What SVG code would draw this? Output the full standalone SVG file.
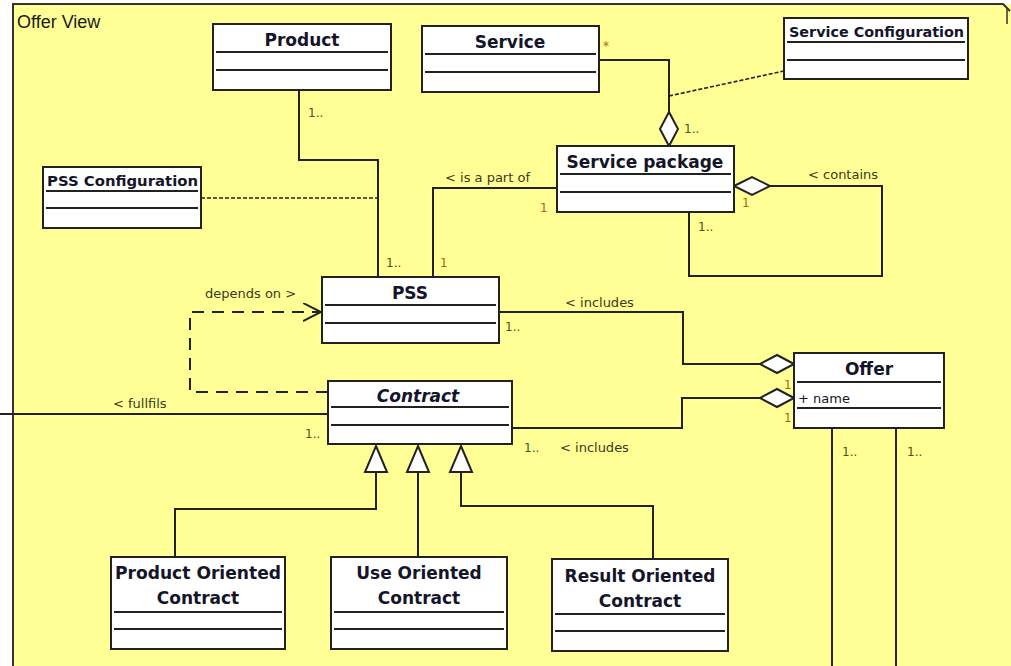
<svg xmlns="http://www.w3.org/2000/svg" width="1011" height="666" viewBox="0 0 1011 666">
  <style>
    .cls { fill: #ffffff; stroke: #222; stroke-width: 2; }
    .sep { stroke: #222; stroke-width: 2; }
    .title { font-family: "DejaVu Sans", Verdana, sans-serif; font-weight: bold; font-size: 17px; fill: #15152a; text-anchor: middle; }
    .small-title { font-family: "DejaVu Sans", Verdana, sans-serif; font-weight: bold; font-size: 14px; fill: #15152a; }
    .attr { font-family: "DejaVu Sans", Verdana, sans-serif; font-size: 13px; fill: #15152a; }
    .lbl { font-family: "DejaVu Sans", Verdana, sans-serif; font-size: 13px; fill: #3a3a1c; }
    .mult { font-family: "DejaVu Sans", Verdana, sans-serif; font-size: 12px; fill: #4a5220; }
    .one { font-family: "DejaVu Sans", Verdana, sans-serif; font-size: 12px; fill: #a86a10; }
    .edge { fill: none; stroke: #222; stroke-width: 2; }
    .dash { fill: none; stroke: #222; stroke-width: 1.6; stroke-dasharray: 4 2; }
    .dep { fill: none; stroke: #222; stroke-width: 2; stroke-dasharray: 12 8; }
    .diamond { fill: #ffffff; stroke: #222; stroke-width: 2; }
    .tri { fill: #ffffff; stroke: #222; stroke-width: 2; }
  </style>
  <defs>
    <marker id="open" markerWidth="20" markerHeight="20" refX="18" refY="9" orient="auto" markerUnits="userSpaceOnUse">
      <path d="M0,0 L18,9 L0,18" fill="none" stroke="#222" stroke-width="2"/>
    </marker>
  </defs>

  <!-- package frame -->
  <rect x="0" y="0" width="1011" height="666" fill="#ffff96"/>
  <rect x="0" y="0" width="1011" height="4" fill="#ffffff"/>
  <rect x="0" y="0" width="13" height="666" fill="#ffffff"/>
  <path d="M13,666 L13,4 L1003,4 L1010,11" fill="none" stroke="#333" stroke-width="2"/>
  <path d="M1007,8 L1007,24" fill="none" stroke="#333" stroke-width="1.5"/>
  <text x="17" y="28" font-family="Liberation Sans, Arial, sans-serif" font-size="18" fill="#1a1a1a">Offer View</text>

  <!-- connectors -->
  <g id="connectors">
    <!-- Product - PSS -->
    <path class="edge" d="M299,90 L299,160 L378,160 L378,277"/>
    <path class="dash" d="M201,198 L378,198"/>
    <!-- PSS - Service package -->
    <path class="edge" d="M433,277 L433,188 L557,188"/>
    <!-- Service - Service package -->
    <path class="edge" d="M599,60 L669,60 L669,112"/>
    <path class="diamond" d="M669,112 L678,129 L669,146 L660,129 Z"/>
    <path class="dash" d="M669,96 L784,71"/>
    <!-- Service package self association -->
    <path class="diamond" d="M734,186 L752,177 L770,186 L752,195 Z"/>
    <path class="edge" d="M770,186 L882,186 L882,276 L689,276 L689,212"/>
    <!-- PSS - Offer -->
    <path class="edge" d="M499,312 L683,312 L683,364 L760,364"/>
    <path class="diamond" d="M794,364 L777,355 L760,364 L777,373 Z"/>
    <!-- Contract - Offer -->
    <path class="edge" d="M512,428 L682,428 L682,398 L760,398"/>
    <path class="diamond" d="M794,398 L777,389 L760,398 L777,407 Z"/>
    <!-- Offer outgoing -->
    <path class="edge" d="M832,428 L832,666"/>
    <path class="edge" d="M896,428 L896,666"/>
    <!-- Contract depends on PSS -->
    <path class="dep" d="M328,392 L190,392 L190,312 L321,312" marker-end="url(#open)"/>
    <!-- fullfils -->
    <path class="edge" d="M0,414 L328,414"/>
    <!-- generalizations -->
    <path class="edge" d="M376,472 L376,509 L175,509 L175,557"/>
    <path class="edge" d="M418,472 L418,557"/>
    <path class="edge" d="M461,472 L461,506 L653,506 L653,559"/>
    <path class="tri" d="M376,446 L387,472 L365,472 Z"/>
    <path class="tri" d="M418,446 L429,472 L407,472 Z"/>
    <path class="tri" d="M461,446 L472,472 L450,472 Z"/>

    <!-- labels -->
    <text class="mult" x="308" y="117">1..</text>
    <text class="mult" x="386" y="267">1..</text>
    <text class="one" x="440" y="267">1</text>
    <text class="lbl" x="445" y="182">&lt; is a part of</text>
    <text class="one" x="540" y="212">1</text>
    <text class="one" x="603" y="50">*</text>
    <text class="mult" x="684" y="133">1..</text>
    <text class="lbl" x="808" y="179">&lt; contains</text>
    <text class="one" x="742" y="207">1</text>
    <text class="mult" x="698" y="231">1..</text>
    <text class="lbl" x="205" y="298">depends on &gt;</text>
    <text class="lbl" x="565" y="307">&lt; includes</text>
    <text class="mult" x="505" y="331">1..</text>
    <text class="one" x="784" y="389">1</text>
    <text class="one" x="784" y="422">1</text>
    <text class="mult" x="524" y="452">1..</text>
    <text class="lbl" x="560" y="452">&lt; includes</text>
    <text class="mult" x="842" y="456">1..</text>
    <text class="mult" x="907" y="456">1..</text>
    <text class="lbl" x="113" y="408">&lt; fullfils</text>
    <text class="mult" x="305" y="438">1..</text>
  </g>

  <!-- classes -->
  <g id="product">
    <rect class="cls" x="213" y="24" width="178" height="66"/>
    <text class="title" x="302" y="46">Product</text>
    <line class="sep" x1="216" y1="52" x2="388" y2="52"/>
    <line class="sep" x1="216" y1="70" x2="388" y2="70"/>
  </g>

  <g id="service">
    <rect class="cls" x="422" y="26" width="177" height="66"/>
    <text class="title" x="510" y="48">Service</text>
    <line class="sep" x1="425" y1="54" x2="596" y2="54"/>
    <line class="sep" x1="425" y1="72" x2="596" y2="72"/>
  </g>

  <g id="service-configuration">
    <rect class="cls" x="784" y="18" width="184" height="61"/>
    <text class="small-title" x="789" y="37" textLength="175" lengthAdjust="spacingAndGlyphs">Service Configuration</text>
    <line class="sep" x1="787" y1="42" x2="965" y2="42"/>
    <line class="sep" x1="787" y1="60" x2="965" y2="60"/>
  </g>

  <g id="pss-configuration">
    <rect class="cls" x="43" y="167" width="158" height="61"/>
    <text class="small-title" x="47" y="186" textLength="151" lengthAdjust="spacingAndGlyphs">PSS Configuration</text>
    <line class="sep" x1="46" y1="191" x2="198" y2="191"/>
    <line class="sep" x1="46" y1="208" x2="198" y2="208"/>
  </g>

  <g id="service-package">
    <rect class="cls" x="557" y="146" width="177" height="66"/>
    <text class="title" x="645" y="168">Service package</text>
    <line class="sep" x1="560" y1="174" x2="731" y2="174"/>
    <line class="sep" x1="560" y1="192" x2="731" y2="192"/>
  </g>

  <g id="pss">
    <rect class="cls" x="322" y="277" width="177" height="66"/>
    <text class="title" x="410" y="299">PSS</text>
    <line class="sep" x1="325" y1="305" x2="496" y2="305"/>
    <line class="sep" x1="325" y1="323" x2="496" y2="323"/>
  </g>

  <g id="contract">
    <rect class="cls" x="328" y="381" width="184" height="63"/>
    <text class="title" x="418" y="402" font-style="italic">Contract</text>
    <line class="sep" x1="331" y1="407" x2="509" y2="407"/>
    <line class="sep" x1="331" y1="425" x2="509" y2="425"/>
  </g>

  <g id="offer">
    <rect class="cls" x="794" y="353" width="150" height="75"/>
    <text class="title" x="869" y="375">Offer</text>
    <line class="sep" x1="797" y1="382" x2="941" y2="382"/>
    <text class="attr" x="798" y="403">+ name</text>
    <line class="sep" x1="797" y1="408" x2="941" y2="408"/>
  </g>

  <g id="product-oriented-contract">
    <rect class="cls" x="111" y="557" width="174" height="92"/>
    <text class="title" x="198" y="579" textLength="166" lengthAdjust="spacingAndGlyphs">Product Oriented</text>
    <text class="title" x="198" y="604">Contract</text>
    <line class="sep" x1="114" y1="612" x2="282" y2="612"/>
    <line class="sep" x1="114" y1="629" x2="282" y2="629"/>
  </g>

  <g id="use-oriented-contract">
    <rect class="cls" x="331" y="557" width="176" height="92"/>
    <text class="title" x="419" y="579">Use Oriented</text>
    <text class="title" x="419" y="604">Contract</text>
    <line class="sep" x1="334" y1="612" x2="504" y2="612"/>
    <line class="sep" x1="334" y1="629" x2="504" y2="629"/>
  </g>

  <g id="result-oriented-contract">
    <rect class="cls" x="552" y="559" width="176" height="92"/>
    <text class="title" x="640" y="582">Result Oriented</text>
    <text class="title" x="640" y="607">Contract</text>
    <line class="sep" x1="555" y1="614" x2="725" y2="614"/>
    <line class="sep" x1="555" y1="631" x2="725" y2="631"/>
  </g>
</svg>
